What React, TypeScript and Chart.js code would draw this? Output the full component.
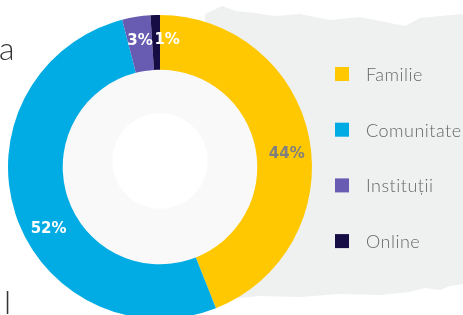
import React, { useEffect, useRef } from "react";
import { Chart, registerables } from "chart.js";

Chart.register(...registerables);

const categories = ["Familie", "Comunitate", "Instituții", "Online"];
const shares = [44, 52, 3, 1];
const sliceColors = ["#FFC800", "#00ACE3", "#675BB2", "#170D45"];
const labelColors = ["#7f7f7f", "#ffffff", "#ffffff", "#ffffff"];

const backdropPlugin = {
  id: "backdrop",
  beforeDraw(chart: any) {
    const ctx = chart.ctx;
    ctx.save();
    ctx.fillStyle = "#ffffff";
    ctx.fillRect(0, 0, chart.width, chart.height);
    // grey brush stroke behind the legend
    ctx.fillStyle = "#eff0f0";
    ctx.beginPath();
    const top = [
      [205, 14], [222, 6], [236, 11], [255, 13], [275, 16], [300, 14], [330, 20],
      [360, 17], [385, 22], [405, 26], [420, 18], [440, 16], [463, 14],
    ];
    const bottom = [
      [463, 284], [450, 286], [440, 290], [425, 288], [410, 292], [380, 295],
      [340, 294], [300, 297], [260, 296], [230, 299], [205, 300],
    ];
    ctx.moveTo(top[0][0], top[0][1]);
    for (const p of top) ctx.lineTo(p[0], p[1]);
    for (const p of bottom) ctx.lineTo(p[0], p[1]);
    ctx.closePath();
    ctx.fill();
    // cut-off text fragments on the left
    ctx.fillStyle = "#333333";
    ctx.font = "300 32px Lato";
    ctx.textBaseline = "alphabetic";
    ctx.textAlign = "left";
    ctx.fillText("a", -1, 60);
    ctx.fillText("l", 4, 314);
    ctx.restore();
  },
};

const holePlugin = {
  id: "hole",
  beforeDatasetsDraw(chart: any) {
    const arc = chart.getDatasetMeta(0).data[0];
    if (!arc) return;
    const { x, y, innerRadius } = arc.getProps(["x", "y", "innerRadius"], true);
    const ctx = chart.ctx;
    ctx.save();
    ctx.fillStyle = "#f9f9f9";
    ctx.beginPath();
    ctx.arc(x, y, innerRadius + 2, 0, Math.PI * 2);
    ctx.fill();
    ctx.fillStyle = "#ffffff";
    ctx.beginPath();
    ctx.arc(x, y - 6, innerRadius * 0.49, 0, Math.PI * 2);
    ctx.fill();
    ctx.restore();
  },
};

// small angular nudges (degrees) so labels sit where the original places them
const labelNudge = [5, -11, 0, 5];

const sliceLabelPlugin = {
  id: "sliceLabels",
  afterDatasetsDraw(chart: any) {
    const ctx = chart.ctx;
    const meta = chart.getDatasetMeta(0);
    const values = chart.data.datasets[0].data as number[];
    const total = values.reduce((a, b) => a + b, 0);
    ctx.save();
    ctx.font = "bold 15px 'DejaVu Sans'";
    ctx.textAlign = "center";
    ctx.textBaseline = "middle";
    meta.data.forEach((el: any, i: number) => {
      const p = el.getProps(["x", "y", "startAngle", "endAngle", "innerRadius", "outerRadius"], true);
      const mid = (p.startAngle + p.endAngle) / 2 + (labelNudge[i] * Math.PI) / 180;
      const r = p.innerRadius + (p.outerRadius - p.innerRadius) * 0.55;
      const tx = p.x + Math.cos(mid) * r;
      const ty = p.y + Math.sin(mid) * r;
      ctx.fillStyle = labelColors[i];
      ctx.fillText(Math.round((values[i] / total) * 100) + "%", tx, ty);
    });
    ctx.restore();
  },
};

const legendPlugin = {
  id: "sideLegend",
  afterDraw(chart: any) {
    const ctx = chart.ctx;
    const labels = chart.data.labels as string[];
    const colors = chart.data.datasets[0].backgroundColor as string[];
    ctx.save();
    ctx.font = "300 18px Lato";
    (ctx as any).letterSpacing = "0.5px";
    ctx.textAlign = "left";
    ctx.textBaseline = "middle";
    labels.forEach((lab, i) => {
      const cy = 74 + i * 55.7;
      ctx.fillStyle = colors[i];
      ctx.fillRect(335, cy - 7, 14, 14);
      ctx.fillStyle = "#666666";
      ctx.fillText(lab, 366, cy + 1);
    });
    ctx.restore();
  },
};

export default function App() {
  const ref = useRef<HTMLCanvasElement>(null);
  useEffect(() => {
    if (!ref.current) return;
    const chart = new Chart(ref.current, {
      type: "doughnut",
      data: {
        labels: categories,
        datasets: [
          {
            data: shares,
            backgroundColor: sliceColors,
            borderWidth: 0,
          },
        ],
      },
      options: {
        responsive: false,
        animation: false,
        cutout: "64%",
        layout: { padding: { left: 8, right: 151, top: 15, bottom: 11 } },
        plugins: {
          legend: { display: false },
          tooltip: { enabled: false },
        },
      },
      plugins: [backdropPlugin, holePlugin, sliceLabelPlugin, legendPlugin],
    });
    return () => chart.destroy();
  }, []);
  return (
    <div
      style={{
        position: "fixed",
        left: 0,
        top: 0,
        width: 463,
        height: 315,
        overflow: "hidden",
        background: "#ffffff",
      }}
    >
      <canvas ref={ref} width={463} height={330} style={{ display: "block" }} />
    </div>
  );
}
